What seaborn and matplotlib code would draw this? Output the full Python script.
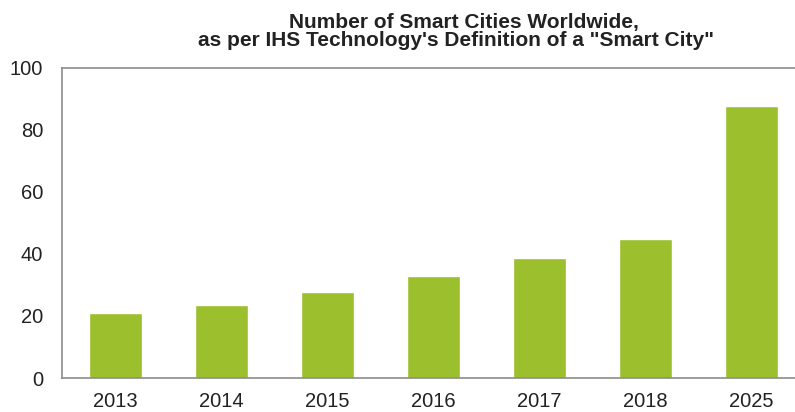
import matplotlib
matplotlib.use("Agg")
import matplotlib.pyplot as plt
import seaborn as sns
import pandas as pd

# Data
years = ["2013", "2014", "2015", "2016", "2017", "2018", "2025"]
smart_cities = [21, 23.5, 27.8, 32.8, 38.5, 44.8, 87.6]

df = pd.DataFrame({"year": years, "cities": smart_cities})

sns.set_style("white")
plt.rcParams["font.family"] = ["Liberation Sans", "DejaVu Sans"]

fig = plt.figure(figsize=(7.95, 4.12), dpi=100)
# axes runs slightly past the right edge, as in the reference
ax = fig.add_axes([0.0786, 0.0825, 1.012 - 0.0786, 0.836 - 0.0825])

sns.barplot(data=df, x="year", y="cities", color="#9cbf2d", saturation=1,
            width=0.5, ax=ax)

ax.set_ylim(0, 100)
ax.set_xlim(-0.5, 6.5)
ax.set_yticks([0, 20, 40, 60, 80, 100])
ax.set_xlabel("")
ax.set_ylabel("")
ax.tick_params(axis="both", length=0, labelsize=14.5, colors="#222222")
ax.tick_params(axis="y", pad=14)
ax.tick_params(axis="x", pad=10)

for side in ["left", "top", "bottom", "right"]:
    ax.spines[side].set_visible(True)
    ax.spines[side].set_color("#8c8c8c")
    ax.spines[side].set_linewidth(1.2)

fig.text(0.584, 0.932, "Number of Smart Cities Worldwide,", ha="center", va="baseline",
         fontsize=15, fontweight="bold", color="#222222")
fig.text(0.574, 0.888, "as per IHS Technology's Definition of a \"Smart City\"", ha="center",
         va="baseline", fontsize=15, fontweight="bold", color="#222222")

fig.savefig("out.png", dpi=100)
